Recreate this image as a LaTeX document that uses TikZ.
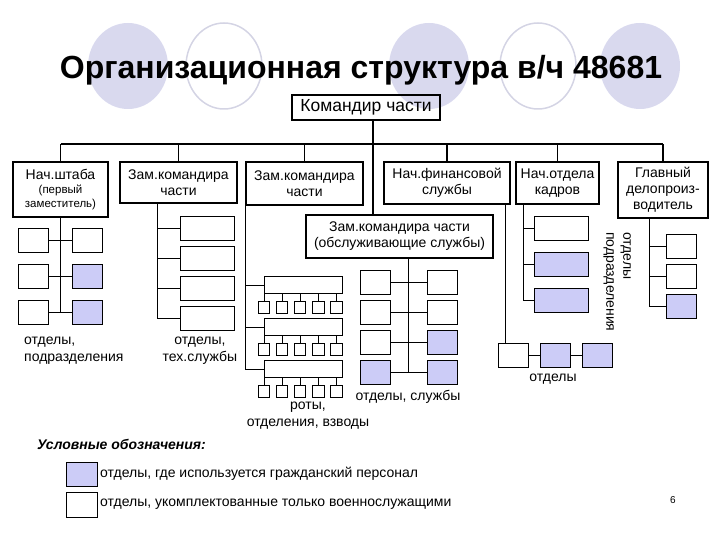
\documentclass[tikz,border=0pt]{standalone}
\usepackage{fontspec}
\setmainfont{Liberation Sans}
\usepackage{tikz}
\definecolor{civFill}{HTML}{CCCCF7}
\definecolor{decoFill}{HTML}{D9D9EE}
\definecolor{decoLine}{HTML}{D4D4E4}
\newcommand{\fntBox}{\fontsize{14}{16}\selectfont}
\newcommand{\fntSub}{\fontsize{11.5}{13}\selectfont}

\begin{document}
\begin{tikzpicture}[x=1pt, y=-1pt,
  mainbox/.style={draw, line width=1.6pt, inner sep=0pt, align=center, font=\fntBox},
  subbox/.style={draw, line width=0.8pt, inner sep=0pt, minimum width=30pt, minimum height=24pt},
  bus/.style={line width=1.6pt},
  link/.style={line width=0.8pt},
  lbl/.style={inner sep=0pt, align=center, font=\fontsize{14}{17}\selectfont}]
  \useasboundingbox (0,0) rectangle (720,540);

  % circles behind the title
  \foreach \x in {128,429,640}{
    \fill[decoFill] (\x,66) ellipse (40pt and 43pt);
  }
  \foreach \x in {224,538}{
    \draw[decoLine, line width=1.5pt] (\x,66) ellipse (38pt and 43pt);
  }
  \node[anchor=base, inner sep=0pt, font=\fontsize{32}{34}\selectfont\bfseries] (title) at (361,79)
    {Организационная структура в/ч 48681};

  % top level
  \node[mainbox, line width=1.3pt, font=\fontsize{17.5}{19}\selectfont,
    minimum width=148pt, minimum height=25pt] (cmd) at (366,107.5) {Командир части};
  \node[mainbox, minimum width=95pt, minimum height=55pt] (hq) at (60.5,189.5)
    {Нач.штаба\\[-2pt]{\fntSub (первый}\\[-2pt]{\fntSub заместитель)}};
  \node[mainbox, minimum width=117pt, minimum height=41pt] (dep1) at (178.5,182.5)
    {Зам.командира\\части};
  \node[mainbox, minimum width=117pt, minimum height=43pt] (dep2) at (304.5,183.5)
    {Зам.командира\\части};
  \node[mainbox, minimum width=126pt, minimum height=42pt] (fin) at (447,183)
    {Нач.финансовой\\службы};
  \node[mainbox, minimum width=83pt, minimum height=42pt] (pers) at (557.5,183)
    {Нач.отдела\\кадров};
  \node[mainbox, minimum width=90pt, minimum height=56pt] (clerk) at (663,190)
    {Главный\\делопроиз-\\водитель};
  \node[mainbox, minimum width=187pt, minimum height=43pt] (serv) at (399.5,236.5)
    {Зам.командира части\\(обслуживающие службы)};

  % bus from the commander
  \coordinate (spine) at (373,144);
  \draw[bus] (cmd.south -| spine) -- (spine |- serv.north);
  \draw[bus] (hq.north |- spine) -- (clerk.north |- spine);
  \foreach \n in {hq,dep1,dep2,fin,pers,clerk}{
    \draw[bus] (\n.north) -- (\n.north |- spine);
  }

  % chief of staff: two columns
  \foreach \r/\y/\f in {1/240/white,2/276/civFill,3/312/civFill}{
    \node[subbox] (hqL\r) at (33,\y) {};
    \node[subbox, fill=\f] (hqR\r) at (87.5,\y) {};
    \draw[link] (hqL\r) -- (hqR\r);
  }
  \draw[link] (hq.south) -- (hq.south |- hqL3.east);

  % deputy 1: technical services
  \coordinate (dep1t) at (157,203);
  \foreach \r/\y in {1/228,2/258.5,3/288.5,4/318.5}{
    \node[subbox, minimum width=54pt] (dep1b\r) at (207,\y) {};
    \draw[link] (dep1b\r.west) -- (dep1b\r.west -| dep1t);
  }
  \draw[link] (dep1t) -- (dep1t |- dep1b4.west);

  % deputy 2: companies and platoons
  \foreach \r/\y in {1/285,2/327,3/369}{
    \node[subbox, minimum width=78pt, minimum height=17pt] (coy\r) at (303,\y) {};
    \draw[link] (coy\r.west) -- (coy\r.west -| dep2.south west);
    \foreach \c/\x in {1/264,2/282,3/300,4/318.5,5/336.5}{
      \node[subbox, minimum width=11.5pt, minimum height=12pt] (coy\r-\c) at (\x,\y+22) {};
      \draw[link] (coy\r-\c.north) -- (coy\r-\c.north |- coy\r.south);
    }
  }
  \draw[link] (dep2.south west) -- (dep2.south west |- coy3.west);

  % service deputy
  \coordinate (servt) at (408,258);
  \foreach \r/\y/\fl/\fr in {1/282/white/white,2/312/white/white,3/342/white/civFill,4/372/civFill/civFill}{
    \node[subbox, fill=\fl] (servL\r) at (375,\y) {};
    \node[subbox, fill=\fr] (servR\r) at (442,\y) {};
    \draw[link] (servL\r) -- (servR\r);
  }
  \draw[link] (servt) -- (servt |- servL4.east);

  % finance
  \coordinate (fint) at (505,204);
  \node[subbox] (fin1) at (513,355) {};
  \node[subbox, fill=civFill] (fin2) at (555,355) {};
  \node[subbox, fill=civFill] (fin3) at (597,355) {};
  \draw[link] (fint) -- (fint |- fin1.north);
  \draw[link] (fin1) -- (fin2) -- (fin3);

  % personnel
  \coordinate (perst) at (523,204);
  \foreach \r/\y/\f in {1/228/white,2/264.5/civFill,3/300.5/civFill}{
    \node[subbox, minimum width=54pt, fill=\f] (pers\r) at (561,\y) {};
    \draw[link] (pers\r.west) -- (pers\r.west -| perst);
  }
  \draw[link] (perst) -- (perst |- pers3.west);

  % chief clerk
  \coordinate (clerkt) at (649,218);
  \foreach \r/\y/\f in {1/246/white,2/276/white,3/306/civFill}{
    \node[subbox, fill=\f] (clerk\r) at (681,\y) {};
    \draw[link] (clerk\r.west) -- (clerk\r.west -| clerkt);
  }
  \draw[link] (clerkt) -- (clerkt |- clerk3.west);

  % captions
  \node[lbl, align=left, anchor=west] (hqLbl) at (24,351) {отделы,\\подразделения};
  \node[lbl] (dep1Lbl) at (200,351) {отделы,\\тех.службы};
  \node[lbl] (coyLbl) at (308,416) {роты,\\отделения, взводы};
  \node[lbl] (servLbl) at (408,397) {отделы, службы};
  \node[lbl] (finLbl) at (553,379) {отделы};
  \node[lbl, align=left, rotate=-90, anchor=north west] (persLbl) at (631,232)
    {отделы\\подразделения};

  % legend
  \node[anchor=west, inner sep=0pt, font=\fntBox\bfseries\itshape] (legTitle) at (37,444)
    {Условные обозначения:};
  \node[subbox, minimum width=31pt, minimum height=24pt, fill=civFill] (legCiv) at (81.5,474) {};
  \node[subbox, minimum width=31pt, minimum height=25pt] (legMil) at (81.5,504.5) {};
  \node[lbl, anchor=west] (legCivTxt) at (100,474)
    {отделы, где используется гражданский персонал};
  \node[lbl, anchor=west] (legMilTxt) at (100,504.5)
    {отделы, укомплектованные только военнослужащими};

  \node[inner sep=0pt, font=\fontsize{10}{12}\selectfont] (pageNo) at (673,500) {6};
\end{tikzpicture}
\end{document}
